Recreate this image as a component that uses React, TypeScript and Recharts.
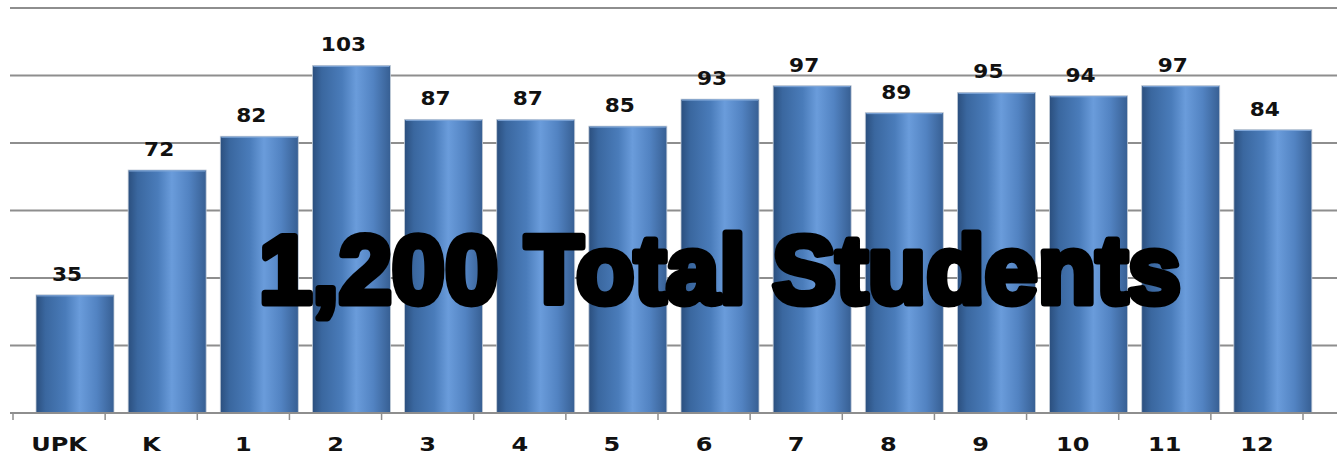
import { BarChart, Bar, XAxis, YAxis, CartesianGrid, LabelList } from 'recharts';

const grades = ['UPK', 'K', '1', '2', '3', '4', '5', '6', '7', '8', '9', '10', '11', '12'];
const students = [35, 72, 82, 103, 87, 87, 85, 93, 97, 89, 95, 94, 97, 84];
const yTicks = [0, 20, 40, 60, 80, 100, 120];
const totalLabel = '1,200 Total Students';

const W = 1340;
const H = 458;
const M = { top: 8, right: 3, bottom: 0, left: 10 };
const PAD = { left: 3, right: 34 };
const BAND = (W - M.left - M.right - PAD.left - PAD.right) / grades.length;
const BAR_SHIFT = 16;
const GRID = '#8e8e8e';

const data = grades.map((g, i) => ({ grade: g, value: students[i] }));

// bars in the original are nudged right of the band centre (old 3D-ish Excel look)
const BarShape = (props: any) => {
  const { x, y, width, height } = props;
  if (!height) return null;
  return (
    <g>
      <rect x={x + BAR_SHIFT} y={y} width={width} height={height} fill="url(#barGrad)" />
      <rect x={x + BAR_SHIFT} y={y} width={width} height={height} fill="none" stroke="#c3ccd8" strokeWidth={0.8} />
      <line x1={x + BAR_SHIFT + 1} x2={x + BAR_SHIFT + width - 1} y1={y + 1} y2={y + 1} stroke="#7fa6d8" strokeWidth={1} />
    </g>
  );
};

const ValueLabel = (props: any) => {
  const { x, y, width, value } = props;
  const cx = x + width / 2 + BAR_SHIFT / 2;
  return (
    <text
      transform={`translate(${cx},${y - 14}) scale(1.14,1)`}
      x={0}
      y={0}
      textAnchor="middle"
      fontFamily="DejaVu Sans"
      fontWeight="bold"
      fontSize={19}
      fill="#111"
    >
      {value}
    </text>
  );
};

const GradeTick = (props: any) => {
  const { x, y, payload, index } = props;
  const left = x - BAND / 2;
  return (
    <g>
      <line x1={left} x2={left} y1={y - 8} y2={y - 1} stroke={GRID} strokeWidth={1.5} />
      {index === grades.length - 1 && (
        <line x1={left + BAND} x2={left + BAND} y1={y - 8} y2={y - 1} stroke={GRID} strokeWidth={1.5} />
      )}
      <text
        transform={`translate(${x},${y + 30}) scale(1.2,1)`}
        x={0}
        y={0}
        textAnchor="middle"
        fontFamily="DejaVu Sans"
        fontWeight="bold"
        fontSize={20}
        fill="#111"
      >
        {payload.value}
      </text>
    </g>
  );
};

export default function App() {
  return (
    <div style={{ position: 'absolute', left: 0, top: 0, width: W, height: H, background: '#fff' }}>
      <BarChart width={W} height={H} data={data} margin={M}>
        <defs>
          <linearGradient id="barGrad" x1="0" y1="0" x2="1" y2="0">
            <stop offset="0%" stopColor="#2b4f7e" />
            <stop offset="12%" stopColor="#3a679f" />
            <stop offset="38%" stopColor="#4a7cba" />
            <stop offset="56%" stopColor="#6a9cdb" />
            <stop offset="78%" stopColor="#5283c2" />
            <stop offset="100%" stopColor="#375f93" />
          </linearGradient>
        </defs>
        <CartesianGrid vertical={false} stroke={GRID} strokeWidth={2} />
        <XAxis
          dataKey="grade"
          height={45}
          padding={PAD}
          tickLine={false}
          axisLine={{ stroke: GRID, strokeWidth: 2 }}
          tick={<GradeTick />}
          interval={0}
        />
        <YAxis hide domain={[0, 120]} ticks={yTicks} />
        <Bar dataKey="value" barSize={78} shape={<BarShape />} isAnimationActive={false}>
          <LabelList dataKey="value" content={<ValueLabel />} />
        </Bar>
      </BarChart>
      <svg width={W} height={H} style={{ position: 'absolute', left: 0, top: 0, pointerEvents: 'none' }}>
        <text
          x={720}
          y={303}
          textAnchor="middle"
          fontFamily="Liberation Sans"
          fontWeight="bold"
          fontSize={97}
          textLength={922}
          lengthAdjust="spacingAndGlyphs"
          fill="#000"
          stroke="#000"
          strokeWidth={7}
          strokeLinejoin="round"
        >
          {totalLabel}
        </text>
      </svg>
    </div>
  );
}
